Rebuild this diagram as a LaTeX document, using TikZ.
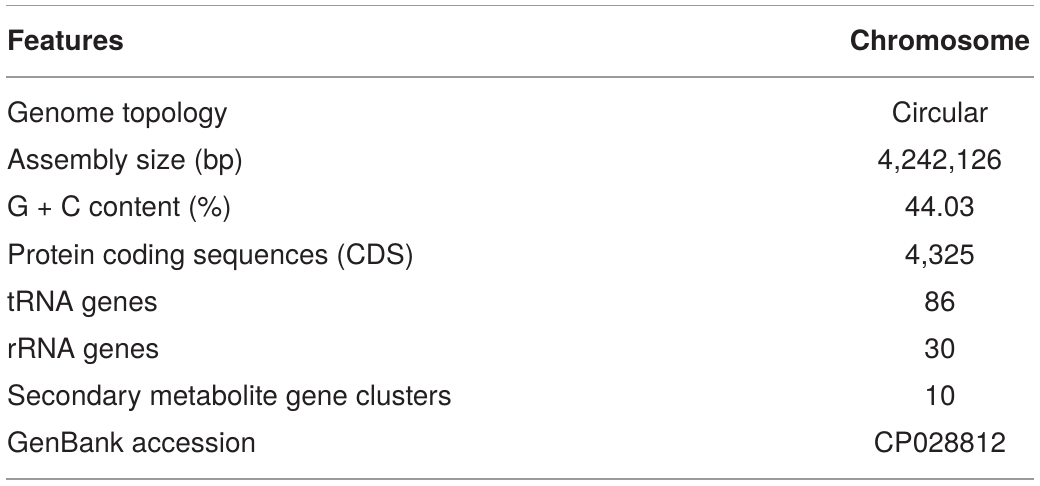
\documentclass[tikz,border=0pt]{standalone}
\usepackage{fontspec}
\setmainfont{TeX Gyre Heros}
\usepackage{tikz}
\definecolor{txtgray}{HTML}{231F20}
\definecolor{rulegray}{HTML}{9A9A9A}
\begin{document}
\begin{tikzpicture}[x=1pt,y=1pt,
  lbl/.style={anchor=base west, inner sep=0pt, text=txtgray, font=\fontsize{28}{34}\selectfont},
  val/.style={anchor=base, inner sep=0pt, text=txtgray, font=\fontsize{28}{34}\selectfont},
  hrule/.style={rulegray, line width=1.6pt}]
\useasboundingbox (0,0) rectangle (1040,485);

\coordinate (topL) at (6,479.5);
\coordinate (topR) at (1034,479.5);
\draw[hrule] (topL) -- (topR) ; % top rule

\node[lbl] (feat) at (7,434) {\bfseries Features};
\node[val] (chrom) at (940,434) {\bfseries Chromosome};

\coordinate (midL) at (6,408);
\coordinate (midR) at (1034,408);
\draw[hrule] (midL) -- (midR) ; % header rule

\node[lbl] (topo) at (7,362) {Genome topology};
\node[val] (topoval) at (940,362) {Circular};

\node[lbl] (size) at (7,315) {Assembly size (bp)};
\node[val] (sizeval) at (940,315) {4,242,126};

\node[lbl] (gc) at (7,268) {G + C content (\%)};
\node[val] (gcval) at (940,268) {44.03};

\node[lbl] (cds) at (7,221) {Protein coding sequences (CDS)};
\node[val] (cdsval) at (940,221) {4,325};

\node[lbl] (trna) at (7,174) {tRNA genes};
\node[val] (trnaval) at (940,174) {86};

\node[lbl] (rrna) at (7,127) {rRNA genes};
\node[val] (rrnaval) at (940,127) {30};

\node[lbl] (smgc) at (7,80) {Secondary metabolite gene clusters};
\node[val] (smgcval) at (940,80) {10};

\node[lbl] (acc) at (7,33) {GenBank accession};
\node[val] (accval) at (940,33) {CP028812};

\coordinate (botL) at (6,6);
\coordinate (botR) at (1034,6);
\draw[hrule] (botL) -- (botR) ; % bottom rule
\end{tikzpicture}
\end{document}
